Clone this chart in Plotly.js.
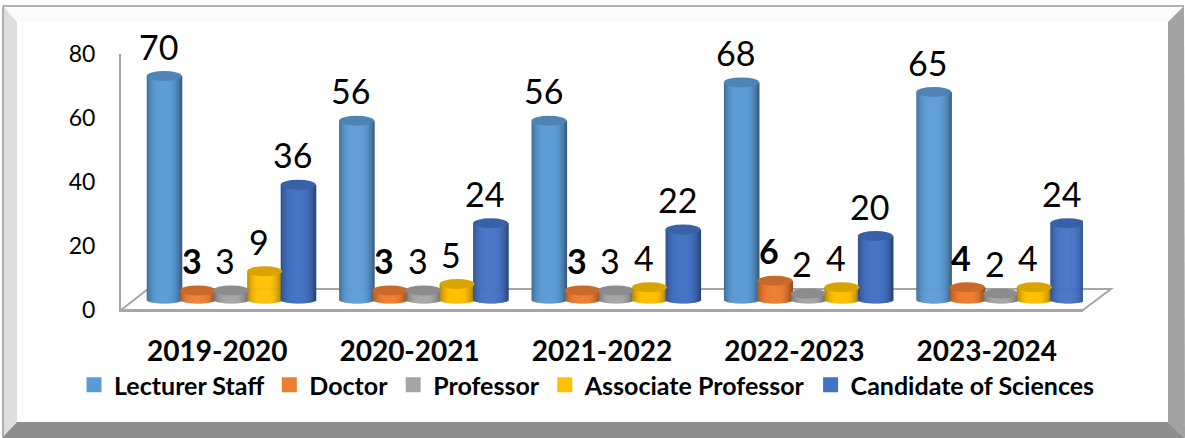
<!DOCTYPE html>
<html><head><meta charset="utf-8">
<script src="https://cdn.plot.ly/plotly-3.0.1.min.js"></script>
<style>html,body{margin:0;padding:0;background:#fff}#c{width:1185px;height:438px}</style>
</head><body><div id="c"></div>
<script>
const years = ['2019-2020','2020-2021','2021-2022','2022-2023','2023-2024'];
const lecturerStaff = [70,56,56,68,65];
const doctor = [3,3,3,6,4];
const professor = [3,3,3,2,2];
const associateProfessor = [9,5,4,4,4];
const candidateOfSciences = [36,24,22,20,24];
const seriesNames = ['Lecturer Staff','Doctor','Professor','Associate Professor','Candidate of Sciences'];
const seriesColors = ['#5B9BD5','#ED7D31','#A5A5A5','#FFC000','#4472C4'];
const seriesValues = [lecturerStaff,doctor,professor,associateProfessor,candidateOfSciences];
const boldLabels = [false,true,false,false,false];
const axisTicks = [0,20,40,60,80];

// page geometry, px
const W=1185,H=438,L=121,R=1083,T=54,B=310;
const pw=R-L,ph=B-T,catW=pw/5;
const unitPx=3.2,baseY=300,shiftX=14;
const sx=x=>((x-L)/pw).toFixed(5), sy=y=>((B-y)/ph).toFixed(5);
const poly=(pts,fill,line)=>({type:'path',xref:'paper',yref:'paper',layer:'below',
  path:'M'+pts.map(p=>sx(p[0])+','+sy(p[1])).join(' L')+' Z',
  fillcolor:fill,line:line||{width:0}});
const mix=(hex,f)=>{const n=parseInt(hex.slice(1),16);
  const c=[n>>16,(n>>8)&255,n&255].map(v=>Math.round(f<1?v*f:v+(255-v)*(f-1)));
  return `rgb(${c[0]},${c[1]},${c[2]})`;};

const shapes=[
  poly([[3,6],[1184,6],[1168,22],[17,22]],'#FBFBFB'),
  poly([[3,6],[17,22],[17,422],[3,437]],'#DEDEDE'),
  poly([[1184,6],[1168,22],[1168,422],[1185,438]],'#A2A2A2'),
  poly([[17,422],[1168,422],[1185,438],[2,438]],'#8E8E8E'),
  poly([[3,6],[1184,6]],'rgba(0,0,0,0)',{color:'#9A9A9A',width:1.5}),
  poly([[3,6],[3,437]],'rgba(0,0,0,0)',{color:'#9A9A9A',width:1.5}),
  poly([[L,B],[148,289],[1111,289],[R,B]],'rgba(0,0,0,0)',{color:'#A6A6A6',width:2})
];

const barW=35/catW, step=33.5/catW, STRIPS=35;
const ry=3.5/unitPx, lidR=5/unitPx;
const traces=[];
const annotations=[];

// keeps the visible category/value axes alive
traces.push({type:'scatter',mode:'markers',x:years.map((_,i)=>i),y:years.map(()=>0),
  marker:{opacity:0,size:1},hoverinfo:'skip',showlegend:false,cliponaxis:true});

seriesValues.forEach((vals,s)=>{
  const color=seriesColors[s];
  const centre=(s-2)*step;
  traces.push({type:'scatter',mode:'markers',name:seriesNames[s],x:[null],y:[null],
    marker:{symbol:'square',size:15,color:color},hoverinfo:'skip',showlegend:true});
  const xs=[],ys=[],bases=[],offs=[],cols=[];
  const sw=barW/STRIPS;
  vals.forEach((v,i)=>{
    for(let k=0;k<STRIPS;k++){
      const t=(k+0.5)/STRIPS*2-1;
      const b=-ry*Math.sqrt(1-t*t);
      xs.push(i);ys.push(v-b);bases.push(b);
      offs.push(centre-barW/2+k*sw);
      const d=Math.abs(t+0.05);
      cols.push(mix(color,1.02-0.38*Math.pow(d,3)));
    }
    const cx=i+centre;
    shapes.push({type:'circle',xref:'x2',yref:'y2',layer:'above',
      x0:cx-barW/2,x1:cx+barW/2,y0:v-lidR,y1:v+lidR,
      fillcolor:mix(color,0.85),line:{width:0}});
    annotations.push({xref:'x2',yref:'y2',x:cx,y:v,xshift:-6,yshift:30,showarrow:false,
      text:boldLabels[s]?`<b>${v}</b>`:String(v),xanchor:'center',yanchor:'middle',
      font:{family:'Lato, sans-serif',size:34,color:'#000'}});
  });
  traces.push({type:'bar',x:xs,y:ys,base:bases,offset:offs,width:sw*1.6,
    xaxis:'x2',yaxis:'y2',marker:{color:cols,line:{width:0}},
    hoverinfo:'skip',showlegend:false});
});

const layout={
  width:W,height:H,autosize:false,
  margin:{l:L,r:W-R,t:T,b:H-B,pad:0},
  paper_bgcolor:'#fff',plot_bgcolor:'rgba(0,0,0,0)',
  barmode:'overlay',showlegend:true,shapes:shapes,annotations:annotations,
  font:{family:'Lato, sans-serif',color:'#000'},
  xaxis:{range:[-0.5,4.5],tickvals:[0,1,2,3,4],ticktext:years,showgrid:false,zeroline:false,
    showline:true,linecolor:'#A6A6A6',linewidth:2,ticks:'',ticklabelstandoff:15,
    tickfont:{family:'Lato, sans-serif',size:28,weight:700,color:'#000'}},
  yaxis:{range:[0,80],tickvals:axisTicks,showgrid:false,zeroline:false,
    showline:true,linecolor:'#A6A6A6',linewidth:2,ticks:'',ticklabelstandoff:19,
    tickfont:{family:'Lato, sans-serif',size:23,color:'#000'}},
  xaxis2:{overlaying:'x',visible:false,range:[-0.5-shiftX/catW,4.5-shiftX/catW]},
  yaxis2:{overlaying:'y',visible:false,range:[-(B-baseY)/unitPx,(baseY-T)/unitPx]},
  legend:{orientation:'h',x:(74-L)/pw,xanchor:'left',y:(B-362)/ph,yanchor:'top',
    bgcolor:'rgba(0,0,0,0)',itemclick:false,itemdoubleclick:false,
    font:{family:'Lato, sans-serif',size:25,weight:700,color:'#000'}}
};
Plotly.newPlot('c',traces,layout,{displayModeBar:false,staticPlot:true});
</script></body></html>
